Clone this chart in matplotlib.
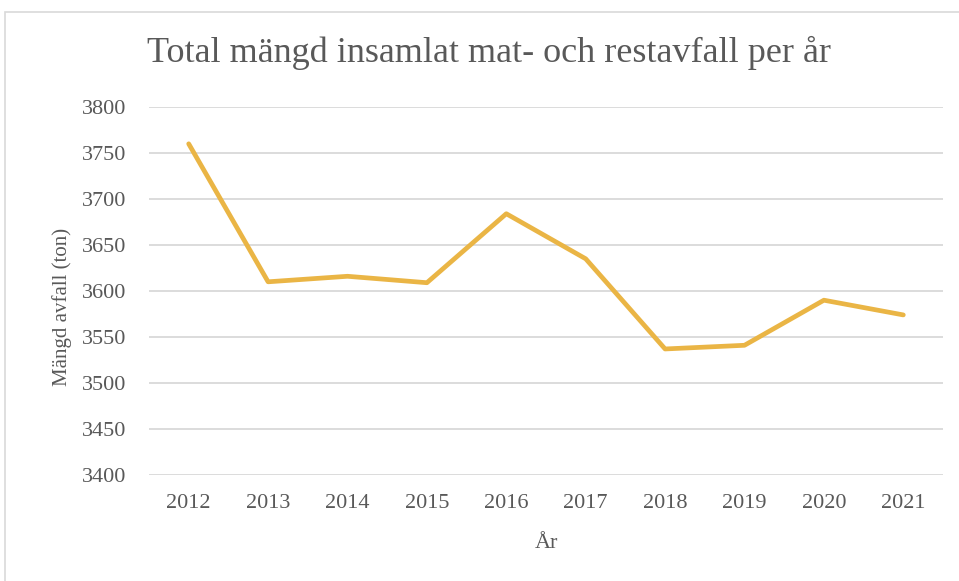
import matplotlib
matplotlib.use("Agg")
import matplotlib.pyplot as plt
from matplotlib.patches import Rectangle

years = ["2012", "2013", "2014", "2015", "2016", "2017", "2018", "2019", "2020", "2021"]
values = [3760, 3610, 3616, 3609, 3684, 3635, 3537, 3541, 3590, 3574]
yticks = [3400, 3450, 3500, 3550, 3600, 3650, 3700, 3750, 3800]

W, H = 959, 581
fig = plt.figure(figsize=(W / 100, H / 100), dpi=100)
plt.rcParams['font.family'] = ['Liberation Serif', 'DejaVu Serif']
text_color = "#595959"

# chart-area border
fig.add_artist(Rectangle((5 / W, -0.1), 1.2, 1.1 - 12 / H, transform=fig.transFigure,
                         fill=False, edgecolor="#D9D9D9", linewidth=1.2))

ax = fig.add_axes([149 / W, 1 - 475 / H, (943 - 149) / W, (475 - 107) / H])
x = list(range(len(years)))
ax.plot(x, values, color="#EAB545", linewidth=3.4, solid_joinstyle="round",
        solid_capstyle="round", zorder=3)
ax.set_xlim(-0.5, len(years) - 0.5)
ax.set_ylim(3400, 3800)
ax.set_yticks(yticks)
ax.set_yticklabels([str(v) for v in yticks])
ax.set_xticks(x)
ax.set_xticklabels(years)
ax.grid(axis="y", color="#D9D9D9", linewidth=1.3)
ax.set_axisbelow(True)
for s in ax.spines.values():
    s.set_visible(False)
ax.tick_params(axis="both", length=0, labelsize=16, colors=text_color)
ax.tick_params(axis="y", pad=16)
ax.tick_params(axis="x", pad=14)
ax.set_xlabel("År", fontsize=16, color=text_color, labelpad=15)
ax.set_ylabel("Mängd avfall (ton)", fontsize=15, color=text_color)
ax.yaxis.set_label_coords((72 - 149) / 794, (475 - 307) / 368)
fig.text(489 / W, 1 - 53 / H, "Total mängd insamlat mat- och restavfall per år",
         ha="center", va="center", fontsize=26, color=text_color)

fig.savefig("out.png", dpi=100)
